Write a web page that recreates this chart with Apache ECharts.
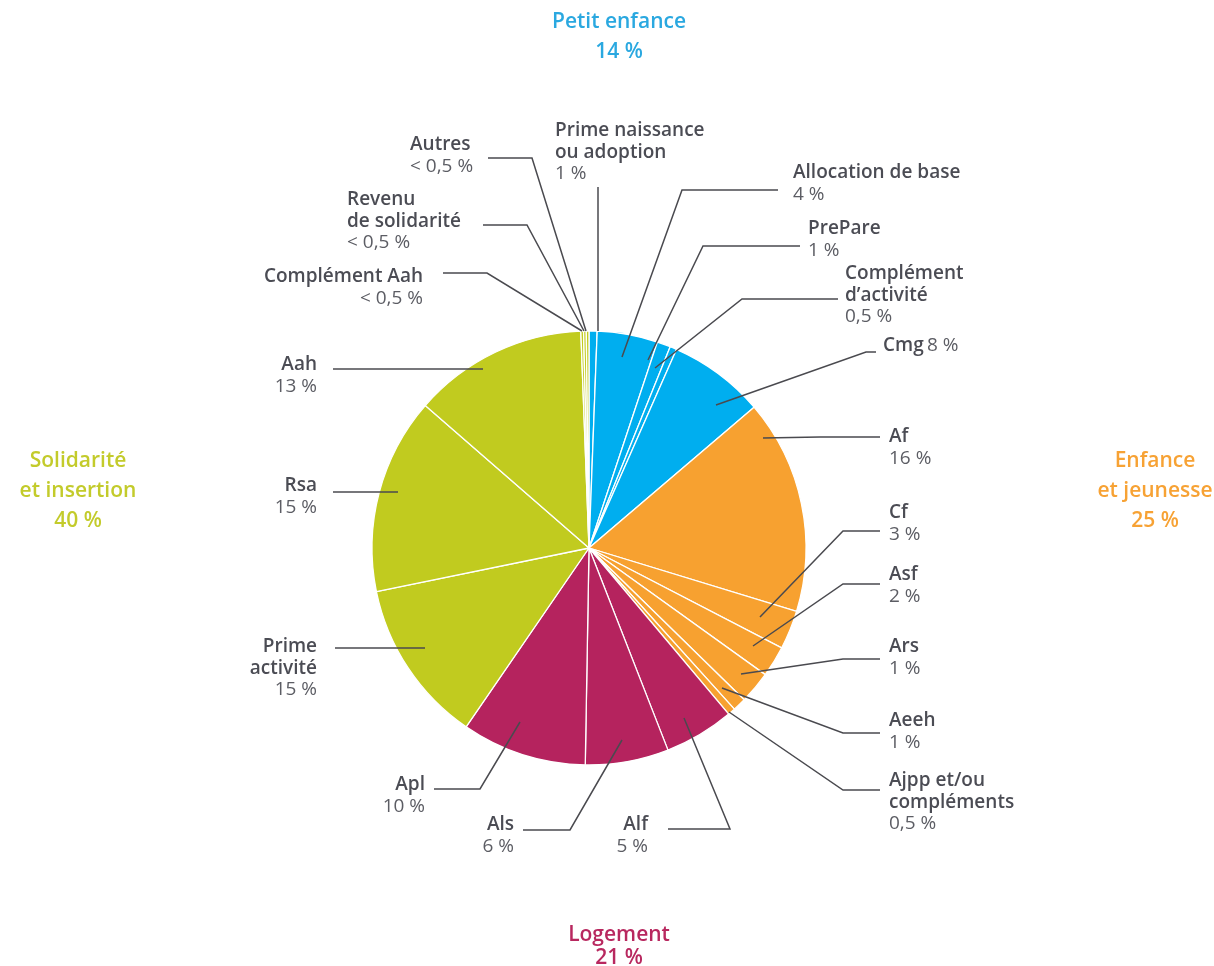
<!DOCTYPE html>
<html>
<head>
<meta charset="utf-8">
<script src="https://cdn.jsdelivr.net/npm/echarts@6/dist/echarts.min.js"></script>
<style>
html,body{margin:0;padding:0;background:#fff;}
#chart{width:1214px;height:966px;}
</style>
</head>
<body>
<div id="chart"></div>
<script>
// ---- data ----
const categories = ['Prime naissance ou adoption','Allocation de base','PrePare','Complément d’activité','Cmg',
  'Af','Cf','Asf','Ars','Aeeh','Ajpp et/ou compléments',
  'Alf','Als','Apl',
  'Prime activité','Rsa','Aah','Complément Aah','Revenu de solidarité','Autres'];
const values = [0.6, 4.5, 1.0, 0.5, 7.15,
  15.95, 2.9, 2.3, 2.4, 1.0, 0.55,
  5.2, 6.2, 9.3,
  12.2, 14.6, 13.0, 0.2, 0.2, 0.2];
const groupOf = [0,0,0,0,0, 1,1,1,1,1,1, 2,2,2, 3,3,3,3,3,3];
const labelNames = ['Prime naissance\nou adoption','Allocation de base','PrePare','Complément\nd’activité','Cmg',
  'Af','Cf','Asf','Ars','Aeeh','Ajpp et/ou\ncompléments',
  'Alf','Als','Apl',
  'Prime\nactivité','Rsa','Aah','Complément Aah','Revenu\nde solidarité','Autres'];
const labelPcts = ['1 %','4 %','1 %','0,5 %','8 %',
  '16 %','3 %','2 %','1 %','1 %','0,5 %',
  '5 %','6 %','10 %',
  '15 %','15 %','13 %','< 0,5 %','< 0,5 %','< 0,5 %'];
const groupNames = ['Petit enfance','Enfance\net jeunesse','Logement','Solidarité\net insertion'];
const groupPcts = ['14 %','25 %','21 %','40 %'];

// ---- styles / layout ----
const groupColors = ['#00aeef','#f7a130','#b5235e','#c1cb1f'];
const groupTextColors = ['#2aa8e0','#f7a234','#b8285f','#c3cb2b'];
const FONT = '"Open Sans", Lato, sans-serif';
const LH = 21.5;
// [align, x, firstLineCenterY, linePoints(start->end)]
const labelPlaces = [
  ['left', 555, 131, [[598,331],[598,260],[598,187]]],
  ['left', 793, 173, [[622,357],[682,190],[778,190]]],
  ['left', 808, 229, [[648,360],[703,246],[800,246]]],
  ['left', 845, 274, [[655,368],[742,299],[838,299]]],
  ['left', 883, 346, [[716,405],[866,352],[876,352]]],
  ['left', 889, 437, [[763,438],[820,437],[880,437]]],
  ['left', 889, 513, [[760,617],[843,531],[880,531]]],
  ['left', 889, 575, [[753,646],[843,584],[880,584]]],
  ['left', 889, 647, [[741,674],[843,659],[880,659]]],
  ['left', 889, 721, [[722,688],[843,733],[880,733]]],
  ['left', 889, 781, [[729,712],[843,790],[880,790]]],
  ['right', 648, 825, [[684,718],[730,829],[668,829]]],
  ['right', 514, 825, [[622,740],[570,830],[523,830]]],
  ['right', 425, 785, [[520,722],[480,789],[434,789]]],
  ['right', 317, 647, [[425,648],[380,648],[335,648]]],
  ['right', 317, 486, [[398,492],[360,492],[333,492]]],
  ['right', 317, 365, [[483,369],[400,369],[333,369]]],
  ['right', 423, 277, [[582,331],[487,273],[443,273]]],
  ['left', 347, 200, [[584,331],[527,225],[483,225]]],
  ['left', 410, 145, [[586,331],[532,158],[488,158]]]
];
const groupPlaces = [[619, 22], [1155, 461], [619, 935], [78, 461]];

function labelText(i){
  if (i === 4) return '{n|' + labelNames[i] + '} {v|' + labelPcts[i] + '}';
  const lines = labelNames[i].split('\n').map(s => '{n|' + s + '}');
  lines.push('{v|' + labelPcts[i] + '}');
  return lines.join('\n');
}

const pieData = categories.map((c, i) => ({
  name: c,
  value: values[i],
  itemStyle: { color: groupColors[groupOf[i]] }
}));
const labelData = categories.map((c, i) => ({
  name: c,
  value: values[i],
  label: { formatter: labelText(i) }
}));

const graphics = [];
groupNames.forEach((g, k) => {
  const lines = g.split('\n');
  lines.push(groupPcts[k]);
  const lh = k === 2 ? 23 : 30;
  lines.forEach((t, j) => {
    graphics.push({
      type: 'text',
      x: groupPlaces[k][0],
      y: groupPlaces[k][1] + j * lh,
      style: {
        text: t,
        fill: groupTextColors[k],
        font: '600 21px ' + FONT,
        align: 'center',
        verticalAlign: 'middle'
      }
    });
  });
});

const pieCommon = {
  type: 'pie',
  center: [589, 548],
  radius: [0, 217],
  startAngle: 90,
  clockwise: true,
  avoidLabelOverlap: false,
  minAngle: 0,
  emphasis: { disabled: true }
};

const chart = echarts.init(document.getElementById('chart'), null, {renderer: 'canvas'});
chart.setOption({
  animation: false,
  backgroundColor: '#ffffff',
  graphic: graphics,
  series: [
    Object.assign({}, pieCommon, {
      z: 2,
      silent: true,
      itemStyle: { borderColor: '#ffffff', borderWidth: 1.3 },
      label: { show: false },
      labelLine: { show: false },
      data: pieData
    }),
    Object.assign({}, pieCommon, {
      z: 4,
      silent: true,
      itemStyle: { color: 'rgba(0,0,0,0)', borderWidth: 0 },
      label: {
        show: true,
        position: 'outside',
        rich: {
          n: { fontFamily: FONT, fontWeight: 600, fontSize: 19, color: '#4b4c54', lineHeight: LH },
          v: { fontFamily: FONT, fontWeight: 'normal', fontSize: 19, color: '#5c5d64', lineHeight: LH }
        }
      },
      labelLine: {
        show: true,
        showAbove: true,
        length: 10,
        length2: 10,
        lineStyle: { color: '#4a4a4f', width: 1.5 }
      },
      labelLayout: function (p) {
        const pl = labelPlaces[p.dataIndex];
        return {
          x: pl[1],
          y: pl[2] - LH / 2,
          align: pl[0],
          verticalAlign: 'top',
          labelLinePoints: pl[3]
        };
      },
      data: labelData
    })
  ]
});
</script>
</body>
</html>
